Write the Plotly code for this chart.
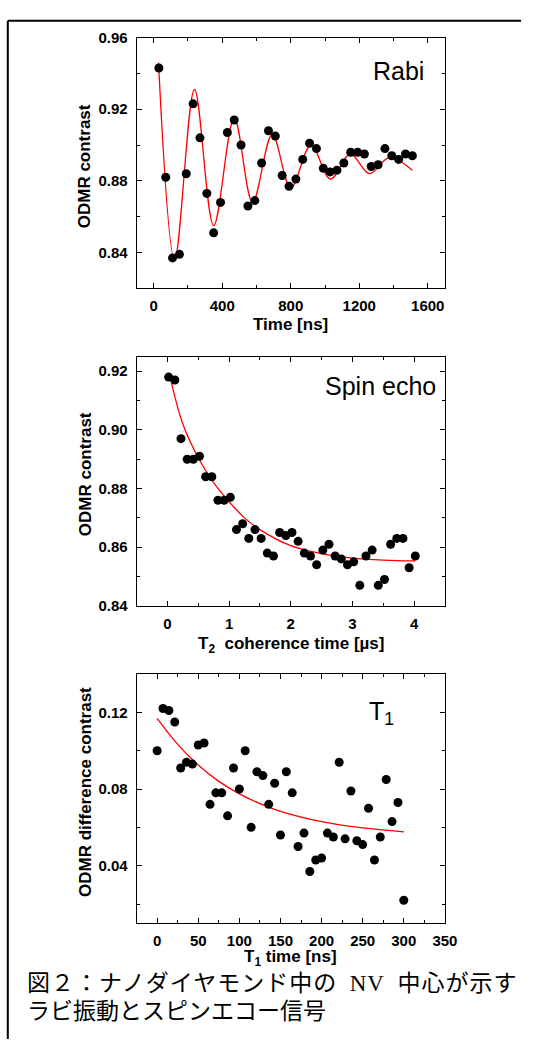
import plotly.graph_objects as go

W, H = 534, 1047

# ---------------- data ----------------
rabi_t = [30, 70, 110, 150, 190, 230, 270, 310, 350, 390, 430, 470, 510, 550, 590,
          630, 670, 710, 750, 790, 830, 870, 910, 950, 990, 1030, 1070, 1110, 1150,
          1190, 1230, 1270, 1310, 1350, 1390, 1430, 1470, 1510]
rabi_c = [0.943, 0.882, 0.837, 0.839, 0.884, 0.923, 0.904, 0.873, 0.851, 0.868,
          0.907, 0.914, 0.900, 0.866, 0.869, 0.890, 0.908, 0.905, 0.883, 0.877,
          0.881, 0.892, 0.901, 0.898, 0.887, 0.885, 0.886, 0.890, 0.896, 0.896,
          0.895, 0.888, 0.889, 0.898, 0.894, 0.892, 0.895, 0.894]
rabi_fit_t = [28, 122, 238, 350, 470, 577, 692, 800, 918, 1032, 1147, 1260, 1375, 1510]
rabi_fit_c = [0.946, 0.836, 0.931, 0.855, 0.915, 0.868, 0.906, 0.876, 0.900, 0.881,
              0.895, 0.884, 0.893, 0.886]

echo_t = [0.02, 0.12, 0.22, 0.32, 0.42, 0.52, 0.62, 0.72, 0.82, 0.92, 1.02, 1.12, 1.22,
          1.32, 1.42, 1.52, 1.62, 1.72, 1.82, 1.92, 2.02, 2.12, 2.22, 2.32, 2.42, 2.52,
          2.62, 2.72, 2.82, 2.92, 3.02, 3.12, 3.22, 3.32, 3.42, 3.52, 3.62, 3.72, 3.82,
          3.92, 4.02]
echo_c = [0.918, 0.917, 0.897, 0.890, 0.890, 0.891, 0.884, 0.884, 0.876, 0.876, 0.877,
          0.866, 0.868, 0.863, 0.866, 0.863, 0.858, 0.857, 0.865, 0.864, 0.865, 0.862,
          0.858, 0.857, 0.854, 0.859, 0.861, 0.857, 0.856, 0.854, 0.855, 0.847, 0.857,
          0.859, 0.847, 0.849, 0.861, 0.863, 0.863, 0.853, 0.857]
echo_fit_t = [0.05, 0.25, 0.5, 0.75, 1.0, 1.25, 1.5, 2.0, 2.5, 3.0, 3.5, 4.02]
echo_fit_c = [0.9175, 0.902, 0.8905, 0.882, 0.8755, 0.870, 0.866, 0.8605, 0.8578,
              0.8563, 0.8556, 0.8553]

t1_t = [0, 7.1, 14.3, 21.4, 28.6, 35.7, 42.9, 50.0, 57.1, 64.3, 71.4, 78.6, 85.7, 92.9,
        100.0, 107.1, 114.3, 121.4, 128.6, 135.7, 142.9, 150.0, 157.1, 164.3, 171.4,
        178.6, 185.7, 192.9, 200.0, 207.1, 214.3, 221.4, 228.6, 235.7, 242.9, 250.0,
        257.1, 264.3, 271.4, 278.6, 285.7, 292.9, 300.0]
t1_c = [0.100, 0.122, 0.121, 0.115, 0.091, 0.094, 0.093, 0.103, 0.104, 0.072, 0.078,
        0.078, 0.066, 0.091, 0.080, 0.100, 0.060, 0.089, 0.087, 0.072, 0.083, 0.056,
        0.089, 0.078, 0.050, 0.057, 0.037, 0.043, 0.044, 0.057, 0.055, 0.094, 0.054,
        0.079, 0.053, 0.051, 0.070, 0.043, 0.055, 0.085, 0.063, 0.073, 0.022, 0.082]
t1_fit_t = [0, 25, 50, 75, 100, 125, 150, 200, 250, 300]
t1_fit_c = [0.1169, 0.1033, 0.0925, 0.0840, 0.0775, 0.0724, 0.0684, 0.0630, 0.0597, 0.0577]

panel_titles = ["Rabi", "Spin echo", "T<sub>1</sub>"]
x_titles = ["Time [ns]", "T<sub>2</sub>  coherence time [µs]", "T<sub>1</sub> time [ns]"]
y_titles = ["ODMR contrast", "ODMR contrast", "ODMR difference contrast"]
caption_line1 = ["図２：ナノダイヤモンド中の\u2002", "NV", "\u2002中心が示す"]
caption_line2 = "ラビ振動とスピンエコー信号"

# ---------------- layout helpers ----------------
def px(x):
    return x / W

def py(y):
    return 1 - y / H

XL, XR = 140, 456
panels = [
    dict(top=29, bot=284, xr=[-100, 1700], yr=[0.82, 0.96], xd=400, xm=200, yd=0.04, ym=0.02,
         tx=408, ty=63, xty=321, yty=160),
    dict(top=353.3, bot=606.7, xr=[-0.5, 4.5], yr=[0.84, 0.925], xd=1, xm=0.5, yd=0.02, ym=0.01,
         tx=390, ty=383, xty=646, yty=473),
    dict(top=676, bot=929.3, xr=[-25, 350], yr=[0.01, 0.14], xd=50, xm=25, yd=0.04, ym=0.02,
         tx=391, ty=716, xty=965, yty=796),
]

series = [(rabi_t, rabi_c, rabi_fit_t, rabi_fit_c),
          (echo_t, echo_c, echo_fit_t, echo_fit_c),
          (t1_t, t1_c, t1_fit_t, t1_fit_c)]

fig = go.Figure()
tickfont = dict(family="Liberation Sans, Arial", size=15, color="black", weight="bold")
titlefont = dict(family="Liberation Sans, Arial", size=17, color="black", weight="bold")

annotations = []
for i, (p, (xs, ys, fx, fy)) in enumerate(zip(panels, series)):
    n = "" if i == 0 else str(i + 1)
    xa, ya = "x" + n, "y" + n
    fig.add_trace(go.Scatter(x=fx, y=fy, mode="lines",
                             line=dict(color="red", width=1.3, shape="spline", smoothing=1.0),
                             xaxis=xa, yaxis=ya, showlegend=False, hoverinfo="skip"))
    fig.add_trace(go.Scatter(x=xs, y=ys, mode="markers", marker=dict(color="black", size=9),
                             xaxis=xa, yaxis=ya, showlegend=False))
    axcommon = dict(showline=True, linecolor="black", linewidth=1, mirror="ticks", ticks="inside",
                    ticklen=5, tickwidth=1, tickcolor="black", showgrid=False, zeroline=False,
                    tickfont=tickfont)
    fig.layout["xaxis" + n] = dict(axcommon, domain=[px(XL), px(XR)], range=p["xr"], dtick=p["xd"],
                                   tick0=0, anchor=ya, ticklabelstandoff=4,
                                   minor=dict(ticks="inside", ticklen=3, dtick=p["xm"], tick0=0,
                                              tickcolor="black", showgrid=False))
    fig.layout["yaxis" + n] = dict(axcommon, domain=[py(p["bot"]), py(p["top"])], range=p["yr"],
                                   dtick=p["yd"], tick0=0, tickformat=".2f", anchor=xa,
                                   ticklabelstandoff=5,
                                   minor=dict(ticks="inside", ticklen=3, dtick=p["ym"], tick0=0,
                                              tickcolor="black", showgrid=False))
    annotations.append(dict(x=px(p["tx"]), y=py(p["ty"]), xref="paper", yref="paper",
                            text=panel_titles[i], showarrow=False, xanchor="center", yanchor="middle",
                            font=dict(family="Liberation Sans, Arial", size=25, color="black")))
    annotations.append(dict(x=px(298), y=py(p["xty"]), xref="paper", yref="paper",
                            text=x_titles[i], showarrow=False, xanchor="center", yanchor="middle",
                            font=titlefont))
    annotations.append(dict(x=px(87), y=py(p["yty"]), xref="paper", yref="paper",
                            text=y_titles[i], showarrow=False, textangle=-90,
                            xanchor="center", yanchor="middle", font=titlefont))

ls = "letter-spacing:1px"
line1 = (f'<span style="{ls}">{caption_line1[0]}</span>'
         f'<span style="{ls};font-family:\'Liberation Serif\'">{caption_line1[1]}</span>'
         f'<span style="{ls}">{caption_line1[2]}</span>')
capfont = dict(family="Noto Sans CJK JP", size=23, color="black")
annotations.append(dict(x=px(26), y=py(988), xref="paper", yref="paper", text=line1,
                        showarrow=False, xanchor="left", yanchor="middle", font=capfont))
annotations.append(dict(x=px(26), y=py(1017), xref="paper", yref="paper", text=caption_line2,
                        showarrow=False, xanchor="left", yanchor="middle", font=capfont))

shapes = [
    dict(type="line", xref="paper", yref="paper", x0=px(8), x1=1.0, y0=py(12), y1=py(12),
         line=dict(color="black", width=2)),
    dict(type="line", xref="paper", yref="paper", x0=px(8), x1=px(8), y0=py(12), y1=0,
         line=dict(color="black", width=2)),
]

fig.update_layout(width=W, height=H, margin=dict(l=0, r=0, t=0, b=0),
                  paper_bgcolor="white", plot_bgcolor="white",
                  annotations=annotations, shapes=shapes)

fig.write_html("out.html", config={"displayModeBar": False, "responsive": False},
               post_script="document.body.style.margin='0px';document.body.style.overflow='hidden';")
